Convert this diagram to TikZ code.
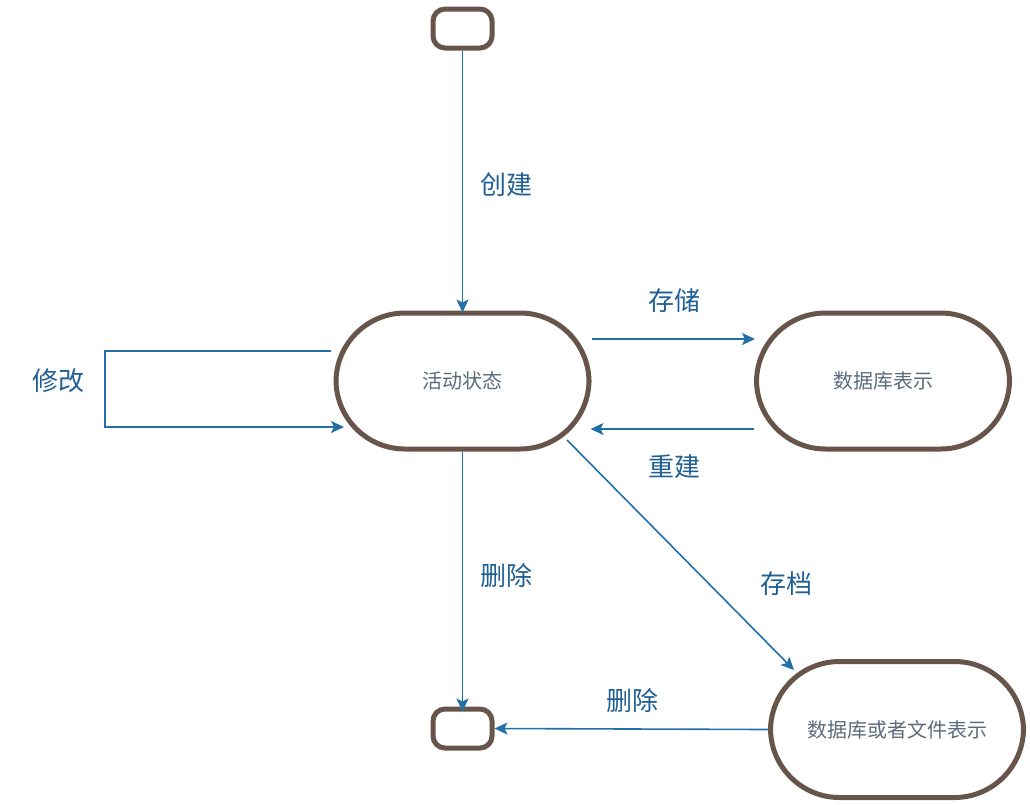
\documentclass[tikz,border=0pt]{standalone}
\usepackage{fontspec}
\newfontfamily\cjk{Noto Sans CJK SC}
\usetikzlibrary{arrows.meta}
\definecolor{brn}{HTML}{67544A}
\definecolor{lnk}{HTML}{2270A8}
\definecolor{lbl}{HTML}{1F5F94}
\definecolor{ntx}{HTML}{5B6B7C}
\tikzset{
  state/.style={draw=brn, line width=5pt, rounded corners=69pt, minimum width=253pt, minimum height=136pt, inner sep=0pt, font=\cjk\fontsize{20}{22}\selectfont, text=ntx},
  term/.style={draw=brn, line width=5pt, rounded corners=12pt, minimum width=59pt, minimum height=39pt, inner sep=0pt},
  conn/.style={draw=lnk, line width=1.6pt, -{Stealth[length=13pt,width=12pt,inset=3pt]}},
  lab/.style={font=\cjk\fontsize{26}{28}\selectfont, text=lbl, inner sep=0pt}
}
\begin{document}
\begin{tikzpicture}[x=1pt,y=-1pt]
\useasboundingbox (0,0) rectangle (1030,804);
\node[term] (start) at (462.5,28.5) {};
\node[state] (act) at (462.5,381) {活动状态};
\node[state] (db) at (883,381) {数据库表示};
\node[term] (end) at (462.5,728.5) {};
\node[state] (arc) at (897,729.5) {数据库或者文件表示};
\coordinate (m1) at (331,351);
\coordinate (m2) at (105,351);
\coordinate (m3) at (105,427);
\draw[conn] (start.south) -- ([yshift=-2pt]act.north);
\draw[conn] ([yshift=42pt]act.east) -- ([xshift=1pt,yshift=42pt]db.west);
\draw[conn] ([yshift=-48pt]db.west) -- ([xshift=-1pt,yshift=-48pt]act.east);
\draw[conn] (m1) -- (m2) -- (m3) -- (344,427);
\draw[conn] (act.south) -- ([yshift=-5pt]end.north);
\draw[conn] (567,440) -- (794,670);
\draw[conn] (arc.west) -- (end.east);
\node[lab] (l1) at (506,185) {创建};
\node[lab] (l2) at (674,301) {存储};
\node[lab] (l3) at (674,467) {重建};
\node[lab] (l4) at (58,381) {修改};
\node[lab] (l5) at (506,576) {删除};
\node[lab] (l6) at (786,584) {存档};
\node[lab] (l7) at (632,701) {删除};
\end{tikzpicture}
\end{document}
